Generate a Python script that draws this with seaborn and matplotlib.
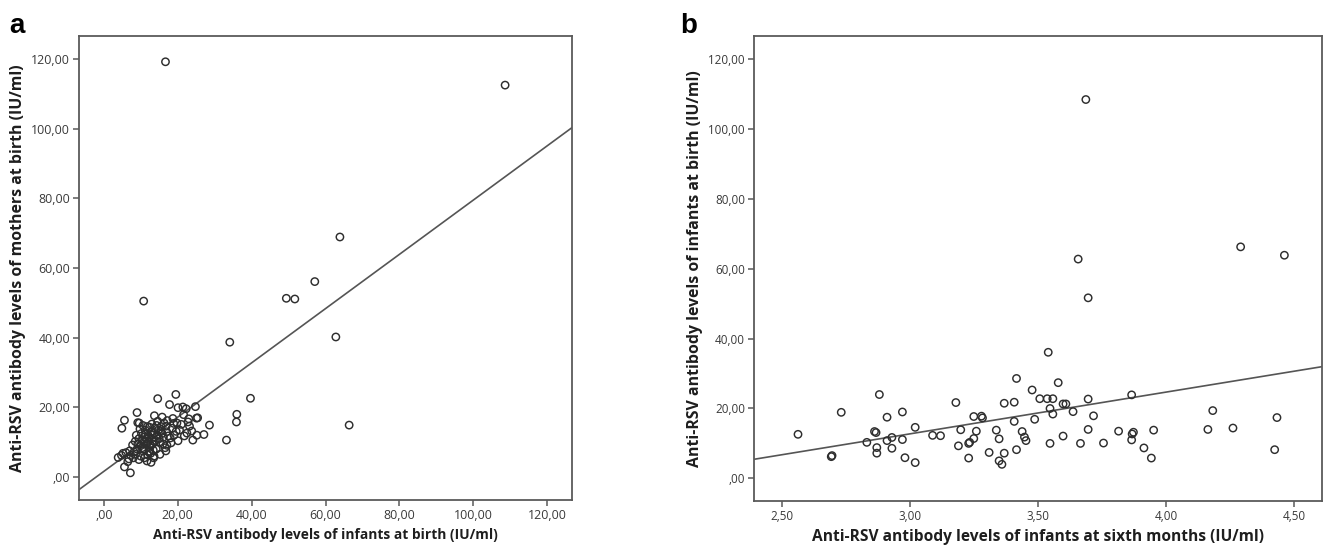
import matplotlib
matplotlib.use("Agg")
import matplotlib.pyplot as plt
import matplotlib.ticker as mticker
import seaborn as sns
import pandas as pd

# ---------------- data ----------------
# Panel a: infants at birth (x) vs mothers at birth (y)
a_x = [16.7, 108.6, 63.9, 57.1, 49.4, 51.7, 10.8, 34.1, 62.8, 39.7, 36.0, 35.9, 66.4, 33.2, 28.6, 27.1,
       19.5, 14.6, 17.8, 21.4, 20.1, 24.8, 22.3, 9.0, 5.6, 4.9, 9.2, 9.6, 13.7, 15.8, 18.7, 21.6, 23.0,
       25.1, 25.4, 24.1, 25.2, 20.1, 22.5, 23.2, 21.0, 19.6, 18.0, 17.1, 16.6, 15.1,
       3.9, 4.8, 5.6, 7.2, 6.5, 7.3, 8.6, 10.0, 11.7, 13.6, 12.4, 6.0, 7.0, 9.0, 8.0, 10.5, 5.2, 8.2, 6.8, 9.5,
       10.0, 10.5, 11.0, 11.5, 12.0, 12.0, 12.5, 12.8, 13.0, 13.2, 13.5, 13.8, 14.0, 14.2, 14.5, 14.8, 15.0,
       15.5, 15.8, 16.0, 16.3, 10.2, 11.2, 11.8, 12.2, 13.0, 9.5, 8.5, 9.8, 11.0, 12.7, 14.6, 17.0, 17.5,
       18.5, 19.0, 19.8, 20.5, 21.8, 22.8, 23.8, 17.2, 18.2, 16.8, 15.2, 13.5, 12.8, 11.0,
       10.8, 11.6, 12.3, 13.1, 13.7, 12.6, 11.3, 10.4, 9.2, 14.3, 15.4, 16.1, 13.4, 11.9, 8.8, 7.8, 10.6,
       12.4, 16.9, 18.9]
a_y = [119.2, 112.5, 68.9, 56.1, 51.3, 51.1, 50.5, 38.7, 40.2, 22.6, 18.0, 15.8, 14.9, 10.6, 14.9, 12.2,
       23.7, 22.5, 20.8, 20.1, 19.9, 20.2, 19.6, 18.5, 16.3, 14.0, 15.6, 15.5, 17.6, 17.2, 16.8, 17.9, 16.7,
       16.9, 17.0, 10.6, 12.0, 10.4, 12.6, 14.6, 15.1, 13.1, 11.2, 9.1, 8.4, 10.1,
       5.6, 6.2, 2.9, 1.2, 4.4, 6.2, 6.5, 6.0, 4.6, 6.0, 7.4, 7.0, 7.5, 8.0, 5.5, 7.5, 6.8, 7.2, 5.2, 5.0,
       9.0, 10.5, 11.5, 9.5, 12.0, 10.0, 8.5, 13.0, 11.0, 9.5, 12.5, 14.0, 10.5, 8.0, 12.0, 13.5, 11.0,
       14.5, 12.5, 9.5, 15.5, 12.5, 13.5, 14.5, 7.2, 15.2, 11.0, 10.2, 13.8, 8.0, 6.8, 16.0, 13.0, 11.8,
       14.0, 12.0, 15.5, 13.5, 11.8, 15.8, 13.2, 16.2, 9.8, 7.5, 6.5, 5.5, 4.2, 5.5,
       10.0, 11.0, 11.3, 12.0, 10.2, 9.2, 12.3, 8.4, 9.5, 14.8, 13.0, 11.4, 7.7, 6.3, 12.0, 9.2, 14.8,
       14.3, 14.6, 15.4]
a_fit_intercept = 1.6
a_fit_slope = 0.779

# Panel b: infants at sixth months (x) vs infants at birth (y)
b_x = [2.561, 2.691, 2.694, 2.730, 2.830, 2.860, 2.866, 2.879, 2.869, 2.869, 2.909, 2.909, 2.928, 2.928,
       2.969, 2.969, 2.979, 3.019, 3.019, 3.087, 3.118, 3.178, 3.197, 3.188, 3.228, 3.232, 3.228, 3.248,
       3.248, 3.258, 3.278, 3.282, 3.336, 3.347, 3.308, 3.347, 3.358, 3.367, 3.367, 3.406, 3.406, 3.415,
       3.415, 3.437, 3.446, 3.452, 3.476, 3.486, 3.506, 3.535, 3.557, 3.546, 3.557, 3.539, 3.578, 3.597,
       3.608, 3.636, 3.546, 3.597, 3.656, 3.686, 3.695, 3.695, 3.695, 3.665, 3.716, 3.755, 3.814, 3.865,
       3.865, 3.872, 3.867, 3.913, 3.942, 3.951, 4.163, 4.182, 4.261, 4.291, 4.433, 4.424, 4.462]
b_y = [12.6, 6.2, 6.5, 18.9, 10.3, 13.4, 13.1, 24.0, 8.8, 7.2, 17.5, 10.8, 11.7, 8.6,
       19.0, 11.1, 5.9, 14.6, 4.5, 12.3, 12.2, 21.7, 13.9, 9.3, 10.0, 10.3, 5.8, 17.7,
       11.4, 13.5, 17.8, 17.3, 13.8, 11.3, 7.4, 5.0, 4.0, 7.2, 21.5, 21.8, 16.3, 28.6,
       8.2, 13.4, 11.8, 10.8, 25.3, 16.9, 22.8, 22.8, 22.8, 20.0, 18.4, 36.1, 27.4, 21.3,
       21.3, 19.1, 10.0, 12.1, 62.8, 108.5, 51.7, 22.7, 14.0, 10.0, 17.9, 10.1, 13.5, 23.9,
       11.0, 13.2, 12.7, 8.7, 5.8, 13.8, 14.0, 19.4, 14.4, 66.3, 17.4, 8.2, 63.9]
b_fit_intercept = -23.1
b_fit_slope = 11.95

a_xticks = [0, 20, 40, 60, 80, 100, 120]
a_yticks = [0, 20, 40, 60, 80, 100, 120]
b_xticks = [2.5, 3.0, 3.5, 4.0, 4.5]
b_yticks = [0, 20, 40, 60, 80, 100, 120]

a_xlabel = "Anti-RSV antibody levels of infants at birth (IU/ml)"
a_ylabel = "Anti-RSV antibody levels of mothers at birth (IU/ml)"
b_xlabel = "Anti-RSV antibody levels of infants at sixth months (IU/ml)"
b_ylabel = "Anti-RSV antibody levels of infants at birth (IU/ml)"

# ---------------- style ----------------
sns.set_theme(style="white")
plt.rcParams['font.family'] = ['Open Sans', 'DejaVu Sans']

W, H = 1323, 549
fig = plt.figure(figsize=(W / 100, H / 100), dpi=100)

def ax_rect(l, r, t, b):
    return [l / W, 1 - b / H, (r - l) / W, (b - t) / H]

ax_a = fig.add_axes(ax_rect(79, 572, 36, 500))
ax_b = fig.add_axes(ax_rect(754, 1322, 36, 501))

def spss_fmt(v, pos):
    s = f"{abs(v):.2f}".replace('.', ',')
    if s.startswith('0,'):
        s = s[1:]
    return s

spine_col = '#5a5a5a'
mark_col = '#2e2e2e'
tick_col = '#3a3a3a'
lab_col = '#1e1e1e'

def style(ax, xticks, yticks, xlim, ylim, xlabel, ylabel, tsize, xsize, ysize):
    ax.set_xlim(*xlim)
    ax.set_ylim(*ylim)
    ax.set_xticks(xticks)
    ax.set_yticks(yticks)
    ax.xaxis.set_major_formatter(mticker.FuncFormatter(spss_fmt))
    ax.yaxis.set_major_formatter(mticker.FuncFormatter(spss_fmt))
    for sp in ax.spines.values():
        sp.set_visible(True)
        sp.set_color(spine_col)
        sp.set_linewidth(1.3)
    ax.tick_params(axis='both', which='major', direction='out', length=4.5, width=1.1,
                   color=spine_col, labelcolor=tick_col, labelsize=tsize, pad=2.0,
                   bottom=True, left=True, top=False, right=False)
    ax.set_xlabel(xlabel, fontsize=xsize, fontweight='bold', color=lab_col, labelpad=4)
    ax.set_ylabel(ylabel, fontsize=ysize, fontweight='bold', color=lab_col, labelpad=4)
    ax.set_facecolor('white')

df_a = pd.DataFrame({'x': a_x, 'y': a_y})
df_b = pd.DataFrame({'x': b_x, 'y': b_y})

sns.scatterplot(data=df_a, x='x', y='y', ax=ax_a, marker='o', s=28,
                facecolor='none', edgecolor=mark_col, linewidth=1.05, zorder=3)
ax_a.axline((0, a_fit_intercept), slope=a_fit_slope, color='#555555', lw=1.2, zorder=2)
style(ax_a, a_xticks, a_yticks, (-6.7, 126.7), (-6.6, 126.6), a_xlabel, a_ylabel,
      8.9, 9.9, 11.4)

sns.scatterplot(data=df_b, x='x', y='y', ax=ax_b, marker='o', s=28,
                facecolor='none', edgecolor=mark_col, linewidth=1.05, zorder=3)
ax_b.axline((0, b_fit_intercept), slope=b_fit_slope, color='#555555', lw=1.2, zorder=2)
style(ax_b, b_xticks, b_yticks, (2.389, 4.609), (-6.5, 126.7), b_xlabel, b_ylabel,
      8.4, 11.2, 11.4)

fig.text(9 / W, 1 - 33 / H, 'a', fontsize=20, fontweight='bold', color='black',
         family=['Liberation Sans', 'DejaVu Sans'], ha='left', va='baseline')
fig.text(680 / W, 1 - 33 / H, 'b', fontsize=20, fontweight='bold', color='black',
         family=['Liberation Sans', 'DejaVu Sans'], ha='left', va='baseline')

fig.savefig('out.png', dpi=100, facecolor='white')
